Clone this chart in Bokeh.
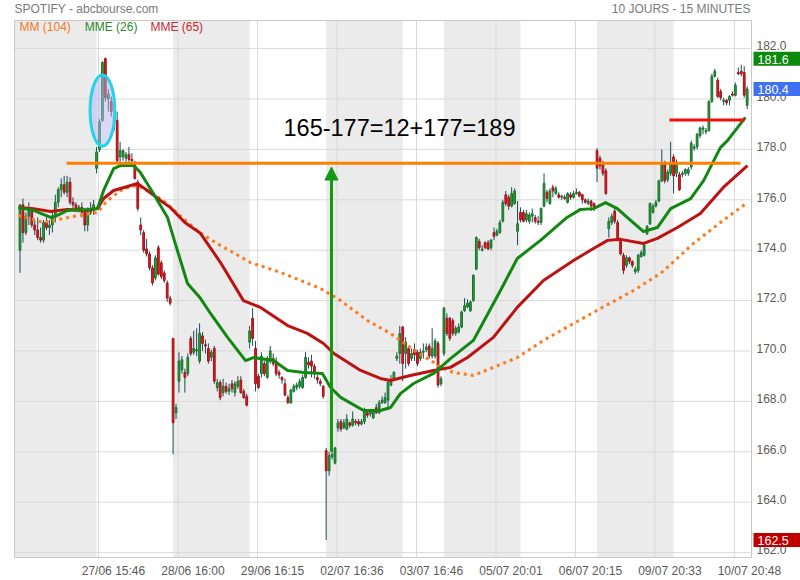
from bokeh.plotting import figure
from bokeh.models import ColumnDataSource, Range1d, FixedTicker, Label, Arrow, NormalHead, LinearAxis
from bokeh.embed import file_html
from bokeh.resources import INLINE

# ---------------- data (15-minute candles, SPOTIFY) ----------------
day_names = ["26/06", "27/06", "28/06", "29/06", "02/07", "03/07", "05/07", "06/07", "09/07", "10/07"]

# (open, high, low, close)
d0626 = [(174.0, 175.8, 173.1, 175.8), (175.8, 176.05, 174.3, 174.7), (174.7, 175.5, 174.6, 175.35),
         (175.35, 175.9, 175.0, 175.6), (175.6, 175.7, 174.9, 175.0), (175.0, 175.2, 174.6, 174.8),
         (174.8, 175.3, 174.4, 174.5), (174.5, 174.9, 174.3, 174.4), (174.4, 175.2, 174.3, 175.1),
         (175.1, 175.3, 174.8, 174.9), (174.9, 175.2, 174.6, 175.0), (175.0, 175.5, 174.7, 175.3),
         (175.3, 176.2, 175.1, 175.9), (175.9, 176.5, 175.7, 176.4), (176.4, 176.85, 176.1, 176.6),
         (176.6, 176.95, 176.2, 176.3), (176.3, 176.95, 176.1, 176.7), (176.7, 176.9, 175.8, 175.9),
         (175.9, 176.1, 175.6, 175.8), (175.8, 175.9, 175.5, 175.6), (175.6, 175.8, 175.5, 175.7),
         (175.7, 175.9, 175.3, 175.5), (175.5, 175.6, 174.75, 175.0), (175.0, 175.7, 174.75, 175.5),
         (175.5, 175.9, 175.4, 175.6), (175.6, 176.0, 175.4, 175.8)]
d0627 = [(177.25, 178.1, 177.05, 177.9), (178.0, 179.2, 177.9, 179.1), (179.15, 181.5, 179.1, 181.45),
         (181.6, 181.65, 179.9, 180.05), (180.0, 180.4, 179.5, 180.2), (179.9, 180.1, 179.3, 179.5),
         (179.3, 179.55, 178.75, 179.2), (179.15, 179.5, 177.5, 177.55), (177.7, 178.3, 177.5, 177.95),
         (177.7, 178.0, 177.55, 177.95), (177.65, 177.9, 177.45, 177.8), (177.8, 178.1, 177.5, 177.6),
         (177.6, 177.85, 177.4, 177.55), (177.4, 177.55, 176.8, 176.85), (176.7, 176.8, 175.55, 175.65),
         (175.0, 175.3, 174.6, 174.8), (174.7, 174.8, 173.9, 174.0), (174.05, 174.45, 173.75, 173.85),
         (173.85, 173.95, 173.2, 173.3), (173.3, 173.4, 172.6, 172.7), (172.9, 173.8, 172.8, 173.7),
         (174.1, 174.2, 173.0, 173.05), (173.5, 173.6, 172.85, 172.95), (173.1, 173.2, 172.7, 172.8),
         (172.7, 172.8, 171.95, 172.1), (172.1, 172.2, 171.8, 171.9)]
d0628 = [(170.5, 170.5, 165.9, 167.15), (167.55, 167.9, 167.3, 167.75), (168.8, 169.95, 168.35, 169.6),
         (169.25, 169.8, 169.1, 169.65), (169.15, 169.3, 168.35, 168.95), (169.1, 169.9, 169.0, 169.75),
         (170.5, 170.6, 169.8, 169.9), (169.95, 170.8, 169.85, 170.1), (170.0, 170.9, 169.8, 170.05),
         (169.6, 171.1, 169.5, 170.7), (170.6, 170.75, 170.0, 170.3), (170.25, 170.45, 169.9, 170.2),
         (170.1, 170.3, 169.5, 169.6), (169.75, 170.05, 169.6, 169.95), (170.1, 170.2, 168.7, 168.8),
         (168.55, 168.9, 168.4, 168.75), (168.75, 168.85, 168.05, 168.15), (168.35, 168.9, 168.2, 168.6),
         (168.6, 168.75, 168.3, 168.4), (168.4, 168.7, 168.25, 168.5), (168.7, 168.85, 168.35, 168.5),
         (168.35, 168.8, 168.2, 168.7), (168.6, 169.0, 168.5, 168.8), (168.85, 169.0, 168.3, 168.35),
         (168.4, 168.5, 168.1, 168.15), (168.2, 168.3, 167.8, 167.85)]
d0629 = [(170.35, 171.0, 170.1, 170.8), (171.3, 171.7, 170.2, 170.5), (170.1, 170.4, 168.4, 168.7),
         (169.0, 169.1, 168.5, 168.55), (169.1, 169.95, 168.95, 169.8), (169.5, 169.6, 169.0, 169.1),
         (168.95, 169.8, 168.9, 169.7), (169.6, 170.2, 169.5, 170.0), (169.7, 169.9, 169.4, 169.5),
         (169.6, 169.75, 169.0, 169.1), (169.15, 169.25, 168.9, 169.05), (168.95, 169.0, 168.7, 168.85),
         (168.7, 168.9, 168.2, 168.25), (168.15, 168.25, 167.9, 167.95), (167.95, 168.5, 167.9, 168.45),
         (168.4, 168.7, 168.35, 168.6), (168.55, 168.75, 168.45, 168.65), (168.6, 168.9, 168.5, 168.8),
         (168.55, 169.05, 168.5, 168.95), (168.95, 169.95, 168.9, 169.75), (169.55, 169.75, 169.3, 169.45),
         (169.6, 169.85, 168.95, 169.4), (169.4, 169.5, 168.9, 169.15), (168.95, 169.05, 168.7, 168.85),
         (168.8, 168.9, 168.6, 168.7), (168.6, 168.65, 168.1, 168.2)]
d0702 = [(166.05, 166.15, 162.5, 165.25), (165.25, 166.0, 165.05, 165.85), (165.8, 166.1, 165.7, 165.9),
         (165.55, 166.2, 165.5, 166.15), (166.95, 167.3, 166.8, 167.15), (167.2, 167.3, 166.8, 166.9),
         (166.95, 167.3, 166.9, 167.15), (166.9, 167.5, 166.85, 167.3), (167.15, 167.2, 166.95, 167.05),
         (167.05, 167.6, 167.0, 167.3), (167.2, 167.3, 167.05, 167.15), (167.2, 167.3, 167.0, 167.1),
         (167.1, 167.3, 167.05, 167.2), (167.2, 167.75, 167.1, 167.65), (167.55, 167.65, 167.35, 167.45),
         (167.5, 167.7, 167.4, 167.6), (167.35, 167.7, 167.3, 167.6), (167.75, 167.9, 167.5, 167.55),
         (167.55, 168.05, 167.5, 167.95), (167.95, 168.2, 167.9, 168.05), (167.95, 168.35, 167.9, 168.15),
         (168.05, 168.8, 167.65, 168.75), (168.65, 169.05, 168.6, 168.85), (168.85, 169.2, 168.8, 169.15),
         (169.7, 169.95, 169.6, 169.8), (169.9, 171.0, 169.5, 170.7)]
d0703 = [(170.95, 171.0, 168.8, 169.5), (169.9, 170.55, 169.3, 170.35), (170.1, 170.2, 169.4, 169.5),
         (169.7, 170.1, 169.6, 169.9), (170.05, 170.3, 169.6, 169.85), (169.95, 170.05, 169.4, 169.5),
         (169.7, 170.1, 169.6, 169.95), (169.95, 170.3, 169.7, 170.0), (170.05, 170.3, 169.95, 170.15),
         (170.2, 170.3, 169.7, 169.8), (169.8, 170.9, 169.7, 170.1), (169.8, 170.5, 169.7, 170.4),
         (170.3, 170.4, 168.55, 168.65), (168.7, 169.0, 168.6, 168.9)]
d0705 = [(169.9, 171.75, 169.8, 171.7), (171.3, 171.5, 170.6, 170.7), (171.3, 171.35, 170.4, 170.5),
         (171.2, 171.3, 170.6, 170.7), (170.7, 171.0, 170.6, 170.9), (170.75, 171.1, 170.7, 170.95),
         (170.95, 171.6, 170.9, 171.55), (171.6, 172.1, 171.55, 171.8), (171.75, 172.05, 171.7, 171.9),
         (171.6, 172.0, 171.55, 171.95), (172.0, 173.05, 171.95, 173.0), (173.25, 174.55, 173.2, 174.5),
         (174.35, 174.45, 174.0, 174.1), (174.0, 174.2, 173.95, 174.05), (174.3, 174.35, 174.05, 174.1),
         (174.3, 174.4, 174.0, 174.05), (174.1, 174.45, 174.0, 174.4), (174.7, 174.9, 174.4, 174.55),
         (174.6, 174.85, 174.55, 174.75), (174.7, 175.2, 174.65, 175.1), (175.15, 176.0, 175.1, 175.9),
         (176.2, 176.35, 175.75, 175.85), (176.1, 176.2, 175.6, 175.75), (175.75, 176.5, 175.7, 176.25),
         (175.85, 176.45, 175.8, 176.35), (174.75, 175.95, 174.2, 175.05)]
d0706 = [(175.5, 175.7, 175.1, 175.2), (175.5, 175.6, 175.1, 175.15), (175.2, 175.6, 175.1, 175.45),
         (175.15, 175.5, 175.05, 175.4), (175.35, 175.65, 175.1, 175.45), (175.3, 175.4, 175.05, 175.15),
         (175.15, 175.35, 175.0, 175.1), (175.1, 175.7, 175.0, 175.65), (175.75, 177.05, 175.7, 176.65),
         (176.3, 176.4, 175.9, 176.05), (175.85, 176.45, 175.8, 176.35), (176.5, 176.6, 176.1, 176.35),
         (176.25, 176.55, 176.2, 176.45), (176.2, 176.3, 176.05, 176.1), (176.1, 176.2, 176.0, 176.15),
         (176.1, 176.2, 176.0, 176.05), (175.9, 176.3, 175.85, 176.25), (176.2, 176.3, 176.0, 176.1),
         (176.1, 176.35, 176.05, 176.25), (176.25, 176.45, 176.2, 176.3), (176.3, 176.35, 176.1, 176.15),
         (176.2, 176.25, 175.85, 176.0), (176.0, 176.05, 175.85, 175.9), (175.85, 176.05, 175.8, 175.95),
         (175.95, 176.0, 175.55, 175.75), (175.85, 175.9, 175.55, 175.65)]
d0709 = [(177.95, 178.05, 176.7, 177.25), (177.65, 177.75, 177.2, 177.35), (177.45, 177.55, 176.95, 177.05),
         (177.15, 177.25, 176.2, 176.25), (174.85, 175.3, 174.5, 175.15), (175.1, 175.45, 175.0, 175.35),
         (175.55, 175.7, 175.05, 175.15), (175.1, 175.2, 174.35, 174.4), (174.4, 174.5, 173.8, 173.85),
         (173.8, 173.9, 173.05, 173.2), (173.4, 173.8, 173.3, 173.7), (173.7, 173.75, 173.45, 173.55),
         (173.55, 173.6, 173.3, 173.4), (173.15, 173.35, 173.05, 173.25), (173.2, 173.85, 173.1, 173.8),
         (173.75, 174.0, 173.7, 173.9), (173.8, 174.3, 173.75, 174.2), (174.65, 175.0, 174.6, 174.95),
         (175.05, 175.9, 175.0, 175.85), (175.5, 175.85, 175.45, 175.75), (175.75, 176.0, 175.7, 175.9),
         (175.95, 176.8, 175.9, 176.75), (176.75, 178.0, 176.7, 177.45), (177.45, 177.55, 176.65, 176.75),
         (176.8, 177.2, 176.7, 177.1), (177.05, 178.3, 176.95, 177.45)]
d0710 = [(177.7, 177.8, 176.25, 176.95), (177.05, 177.6, 176.9, 177.4), (177.0, 177.1, 176.35, 176.4),
         (177.0, 177.15, 176.9, 177.05), (177.05, 177.25, 176.95, 177.2), (177.05, 177.3, 176.95, 177.2),
         (177.3, 178.35, 177.2, 178.25), (178.05, 178.2, 177.95, 178.1), (178.1, 178.65, 178.0, 178.6),
         (178.55, 178.9, 178.45, 178.85), (178.8, 178.95, 178.6, 178.85), (178.7, 178.85, 178.6, 178.75),
         (178.75, 179.95, 178.7, 179.9), (179.9, 181.0, 179.85, 180.9), (180.9, 181.2, 180.85, 181.1),
         (180.75, 180.85, 180.05, 180.1), (180.3, 180.4, 179.95, 180.05), (179.9, 180.05, 179.75, 179.95),
         (179.95, 180.0, 179.75, 179.85), (179.95, 180.15, 179.75, 180.1), (180.2, 180.3, 180.1, 180.15),
         (180.15, 180.65, 180.1, 180.55), (181.05, 181.25, 180.95, 181.0), (181.1, 181.35, 180.9, 181.0),
         (181.05, 181.3, 180.05, 180.15), (179.75, 180.5, 179.6, 180.4)]
days = [d0626, d0627, d0628, d0629, d0702, d0703, d0705, d0706, d0709, d0710]

# moving averages: (candle index, value)
mme26_x = [-0.5, 4.6, 10.4, 12.7, 16.1, 22.9, 26.3, 28.4, 31.8, 34.1, 38.6, 40.9, 45.3, 50.1, 52.1, 56.9,
           61.3, 64.7, 70.5, 76.6, 79.3, 86.1, 90.9, 96.3, 102.7, 105.5, 108.9, 116.7, 122.4, 125.9, 129.2,
           133.7, 140.5, 146.2, 154.0, 163.2, 168.9, 176.8, 185.8, 190.4, 194.8, 198.9, 202.9, 207.4, 211.8,
           216.5, 221.0, 227.8, 232.2, 237.9, 240.3, 246.4]
mme26_y = [175.69, 175.58, 175.30, 175.38, 175.58, 175.62, 175.65, 176.37, 177.24, 177.36, 177.36, 177.08,
           176.25, 175.30, 174.51, 172.68, 172.09, 171.49, 170.54, 169.62, 169.74, 169.62, 169.23, 169.15,
           169.11, 168.55, 168.16, 167.64, 167.64, 167.76, 168.31, 168.71, 169.11, 169.70, 170.42, 172.40,
           173.67, 174.39, 175.30, 175.62, 175.65, 175.89, 175.65, 175.18, 174.74, 174.90, 175.65, 176.05,
           176.76, 178.07, 178.35, 179.27]
mme65_x = [-0.5, 4.6, 10.4, 16.1, 22.9, 26.3, 28.4, 31.8, 36.5, 39.9, 43.3, 47.7, 51.1, 56.0, 61.3, 68.1,
           75.9, 81.7, 90.9, 97.6, 103.1, 106.5, 115.7, 122.4, 125.8, 132.6, 140.5, 146.2, 152.0, 160.8,
           168.9, 177.8, 188.0, 194.8, 199.6, 204.0, 211.8, 216.5, 223.3, 231.1, 238.9, 247.1]
mme65_y = [175.69, 175.65, 175.54, 175.62, 175.58, 175.65, 176.05, 176.37, 176.53, 176.65, 176.37, 175.97,
           175.69, 175.10, 174.67, 173.51, 172.00, 171.73, 171.01, 170.70, 170.30, 169.91, 169.23, 168.91,
           168.83, 169.03, 169.23, 169.35, 169.74, 170.54, 171.73, 172.80, 173.59, 174.07, 174.39, 174.43,
           174.27, 174.47, 174.90, 175.46, 176.49, 177.36]
mm104_x = [-0.5, 8.0, 14.8, 21.6, 26.3, 29.7, 35.2, 39.9, 44.3, 48.7, 53.5, 61.3, 68.1, 78.3, 88.5, 95.3,
           102.1, 108.9, 118.0, 125.8, 129.2, 135.0, 140.5, 142.8, 147.2, 154.0, 160.8, 168.9, 177.8, 188.0,
           197.2, 208.4, 217.6, 228.8, 237.9, 247.1]
mm104_y = [175.38, 175.10, 175.26, 175.42, 175.50, 175.97, 176.45, 176.57, 176.29, 175.97, 175.46, 174.67,
           174.19, 173.51, 173.12, 172.80, 172.48, 172.00, 171.21, 170.70, 170.42, 169.94, 169.55, 169.35,
           169.15, 169.03, 169.35, 169.74, 170.42, 171.09, 171.69, 172.40, 173.08, 174.27, 175.10, 175.89]

# axis ticks
tick_candles = [26, 53, 80, 107, 134, 161, 188, 215, 242]
tick_labels = ["27/06 15:46", "28/06 16:00", "29/06 16:15", "02/07 16:36", "03/07 16:46",
               "05/07 20:01", "06/07 20:15", "09/07 20:33", "10/07 20:48"]
price_ticks = [162, 164, 166, 168, 170, 172, 174, 176, 178, 180, 182]

# drawn annotations
level_orange = 177.45
level_orange_span = (15.8, 244.7)
level_red = 179.17
level_red_span = (220.6, 246.1)
arrow_x, arrow_from, arrow_to = 105.8, 166.0, 177.3
note_text = "165-177=12+177=189"
ellipse_center = (28.0, 179.54)
ellipse_size = (8.4, 2.82)
badge_high, badge_last, badge_low = 181.6, 180.4, 162.5

# ---------------- build ----------------
rows = [r for d in days for r in d]
idx = list(range(len(rows)))
o = [r[0] for r in rows]
h = [r[1] for r in rows]
l = [r[2] for r in rows]
c = [r[3] for r in rows]
up = [cc >= oo for oo, cc in zip(o, c)]
src = ColumnDataSource(dict(
    x=idx, o=o, h=h, l=l, c=c,
    top=[max(a, b) for a, b in zip(o, c)],
    bot=[min(a, b) for a, b in zip(o, c)],
    fill=["#2aa03a" if u else "#e3191f" for u in up],
    edge=["#17732a" if u else "#a11418" for u in up],
))

starts = []
s = 0
for d in days:
    starts.append(s)
    s += len(d)

FONT = "Liberation Sans"
PXS, PYS = 2.944, 25.2                 # pixels per candle / per dollar
PX0, PX1 = -1.87, 248.47               # plot area (candle units)
PY0, PY1 = 161.806, 183.115            # plot area (price)
FX0, FX1 = PX0 - 1 / PXS, PX0 + 786 / PXS      # whole drawing area, up to the right edge
FY0, FY1 = PY0 - 1 / PYS, PY1 + 20 / PYS       # whole drawing area, up to the top edge

p = figure(width=800, height=580, x_range=Range1d(FX0, FX1), y_range=Range1d(FY0, FY1),
           output_backend="svg", toolbar_location=None, y_axis_location=None,
           min_border_left=13, min_border_right=0, min_border_top=0, min_border_bottom=22)
p.background_fill_color = "white"
p.border_fill_color = "white"
p.outline_line_color = None
p.grid.visible = False

# day shading
gl, gr = [], []
for k in range(len(days)):
    if k % 2 == 0:
        gl.append(PX0 if k == 0 else starts[k])
        gr.append(starts[k + 1] if k + 1 < len(days) else PX1)
p.quad(left=gl, right=gr, bottom=PY0, top=PY1, fill_color="#ebebeb", line_color=None, level="image")

# grid lines (limited to the plot area)
gx = [t + 0.66 for t in tick_candles]
p.segment(x0=gx, y0=PY0, x1=gx, y1=PY1, line_color="#d9d9d9", line_width=1, level="underlay")
p.segment(x0=PX0, y0=price_ticks, x1=PX1, y1=price_ticks, line_color="#d9d9d9", line_width=1, level="underlay")
p.quad(left=[PX0], right=[PX1], bottom=[PY0], top=[PY1], fill_color=None, line_color="#c8c8c8",
       line_width=1, level="underlay")

# x axis
xt = [t + 5.75 for t in tick_candles]
p.xaxis.ticker = FixedTicker(ticks=xt)
p.xaxis.major_label_overrides = {v: s for v, s in zip(xt, tick_labels)}
p.xaxis.major_label_standoff = 5

# y axis, drawn at the right edge of the plot area, labels to its right
yt = [v + 0.105 for v in price_ticks]
yaxis = LinearAxis(ticker=FixedTicker(ticks=yt), fixed_location=PX1, major_label_standoff=-35,
                   major_label_overrides={v: "%.1f" % pv for v, pv in zip(yt, price_ticks)})
p.add_layout(yaxis, "left")

for ax in (p.xaxis[0], yaxis):
    ax.axis_line_color = None
    ax.major_tick_line_color = None
    ax.minor_tick_line_color = None
    ax.major_tick_out = 0
    ax.major_tick_in = 0
    ax.minor_tick_out = 0
    ax.minor_tick_in = 0
    ax.major_label_text_font = FONT
    ax.major_label_text_font_size = "12px"
    ax.major_label_text_color = "#5a5a5a"

# candles
p.segment(x0="x", y0="l", x1="x", y1="h", source=src, line_color="#1f4a5c", line_width=1)
p.vbar(x="x", width=0.6, top="top", bottom="bot", source=src, fill_color="fill", line_color="edge", line_width=1)

# moving averages
p.line(mm104_x, mm104_y, line_color="#ff7a1f", line_width=3, line_dash="3 4")
p.line(mme65_x, mme65_y, line_color="#bb1212", line_width=3, line_join="round")
p.line(mme26_x, mme26_y, line_color="#118811", line_width=3, line_join="round")

# drawn annotations
p.segment(x0=[level_orange_span[0]], y0=[level_orange], x1=[level_orange_span[1]], y1=[level_orange],
          line_color="#ff8000", line_width=3)
p.segment(x0=[level_red_span[0]], y0=[level_red], x1=[level_red_span[1]], y1=[level_red],
          line_color="#ee1111", line_width=3)
p.ellipse(x=[ellipse_center[0]], y=[ellipse_center[1]], width=ellipse_size[0], height=ellipse_size[1],
          fill_color="#b4b4f0", fill_alpha=0.5, line_color="#22d3ea", line_width=3)
G = "#119911"
p.add_layout(Arrow(end=NormalHead(size=13, fill_color=G, line_color=G, line_width=1),
                   x_start=arrow_x, y_start=arrow_from, x_end=arrow_x, y_end=arrow_to,
                   line_color=G, line_width=3))
p.add_layout(Label(x=89.5, y=178.83, text=note_text, text_font=FONT, text_font_size="23.5px",
                   text_color="#000000", text_baseline="middle"))

# legend texts
for xx, txt, col in [(-0.17, "MM (104)", "#f07a2a"), (22.0, "MME (26)", "#2a8a2a"), (44.3, "MME (65)", "#c8282d")]:
    p.add_layout(Label(x=xx, y=182.84, text=txt, text_font=FONT, text_font_size="12px",
                       text_color=col, text_baseline="middle"))

# header texts
p.add_layout(Label(x=PX0, y=183.59, text="SPOTIFY - abcbourse.com", text_font=FONT, text_font_size="12px",
                   text_color="#7a7a7a", text_baseline="middle"))
p.add_layout(Label(x=248.1, y=183.59, text="10 JOURS - 15 MINUTES", text_font=FONT, text_font_size="12px",
                   text_color="#7a7a7a", text_baseline="middle", text_align="right"))

# price badges on the right axis
for val, col in [(badge_high, "#0b8a0b"), (badge_last, "#3f6ff2"), (badge_low, "#c00000")]:
    p.add_layout(Label(x=PX1 + 2 / PXS, y=val, text="%.1f" % val, text_font=FONT, text_font_size="12.5px",
                       text_color="white", text_baseline="middle", background_fill_color=col,
                       padding=dict(left=4, right=20, top=3, bottom=2)))

open("out.html", "w").write(file_html(p, INLINE))
